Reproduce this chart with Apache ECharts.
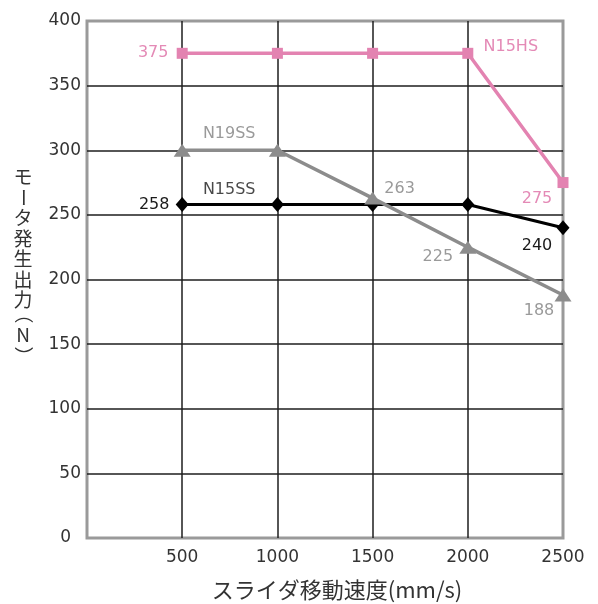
<!DOCTYPE html>
<html>
<head>
<meta charset="utf-8">
<script src="https://cdn.jsdelivr.net/npm/echarts@6/dist/echarts.min.js"></script>
<style>
html,body{margin:0;padding:0;background:#fff;}
#chart{width:598px;height:604px;}
</style>
</head>
<body>
<div id="chart"></div>
<script>
// ---- data ----
const speeds = [500, 1000, 1500, 2000, 2500];
const n15hs = [375, 375, 375, 375, 275];
const n15ss = [258, 258, 258, 258, 240];
const n19ss = [300, 300, 263, 225, 188];
const seriesNames = ['N15HS', 'N15SS', 'N19SS'];
const xTitle = 'スライダ移動速度(mm/s)';
const yTitle = 'モータ発生出力（N）';

// ---- label placement (layout only) ----
const labelLayout = {
  N15HS: [[0, 'v', [-29, 0]], [3, 'n', [43, -6]], [4, 'v', [-26, 16]]],
  N15SS: [[0, 'v', [-28, 0]], [0, 'n', [47, -15]], [4, 'v', [-26, 18]]],
  N19SS: [[0, 'n', [47, -16]], [2, 'v', [27, -9]], [3, 'v', [-30, 10]], [4, 'v', [-24, 16]]]
};
const numFont = 'DejaVu Sans';
const cjkFont = 'Noto Sans CJK JP';

function buildData(name, values, textColor) {
  return values.map((v, i) => {
    const item = { value: [speeds[i], v] };
    const specs = (labelLayout[name] || []).filter(s => s[0] === i);
    if (specs.length) {
      const s = specs[0];
      item.label = {
        show: true, position: 'inside', offset: s[2],
        formatter: s[1] === 'v' ? String(v) : name,
        color: textColor, fontSize: 16, fontFamily: numFont
      };
    }
    return item;
  });
}

function extraLabelSeries(name, values, textColor, color) {
  const specs = labelLayout[name] || [];
  const seen = {};
  const items = [];
  specs.forEach(s => {
    if (seen[s[0]]) {
      items.push({
        value: [speeds[s[0]], values[s[0]]],
        label: {
          show: true, position: 'inside', offset: s[2],
          formatter: s[1] === 'v' ? String(values[s[0]]) : name,
          color: textColor, fontSize: 16, fontFamily: numFont
        }
      });
    }
    seen[s[0]] = true;
  });
  return {
    type: 'scatter', name: name + '_lbl', data: items, symbolSize: 0,
    itemStyle: { color: color }, silent: true, z: 5
  };
}

const chart = echarts.init(document.getElementById('chart'), null, { renderer: 'canvas' });

const yChars = Array.from(yTitle);
const yPos = [177, 197.5, 218, 238.5, 259, 279.5, 300, 314, 334.5, 356];
const rotated = { 'ー': true, '（': true, '）': true };
const yTitleEls = yChars.map((c, i) => ({
  type: 'group',
  x: 23,
  y: yPos[i],
  rotation: rotated[c] ? -Math.PI / 2 : 0,
  children: [{
    type: 'text',
    x: 0, y: 0,
    style: {
      text: c, fontSize: 19, fontFamily: cjkFont, fill: '#333',
      align: 'center', verticalAlign: 'middle'
    }
  }]
}));

const option = {
  animation: false,
  backgroundColor: '#fff',
  grid: {
    left: 87, top: 21, right: 35, bottom: 66,
    show: true, borderColor: '#9a9a9a', borderWidth: 3, backgroundColor: '#fff'
  },
  xAxis: {
    type: 'value', min: 0, max: 2500, interval: 500,
    axisLine: { show: false }, axisTick: { show: false },
    axisLabel: {
      formatter: v => (v === 0 ? '' : String(v)),
      color: '#333', fontSize: 17, fontFamily: numFont, margin: 11
    },
    splitLine: { show: true, showMinLine: false, showMaxLine: false, lineStyle: { color: '#1e1e1e', width: 1.5 } }
  },
  yAxis: {
    type: 'value', min: 0, max: 400, interval: 50,
    axisLine: { show: false }, axisTick: { show: false },
    axisLabel: {
      formatter: v => (v === 0 ? '{z|0}' : String(v)),
      color: '#333', fontSize: 17, fontFamily: numFont, margin: 6,
      rich: { z: { color: '#333', fontSize: 17, fontFamily: numFont, padding: [0, 10, 0, 0] } }
    },
    splitLine: { show: true, showMinLine: false, showMaxLine: false, lineStyle: { color: '#1e1e1e', width: 1.5 } }
  },
  graphic: [
    {
      type: 'text', x: 337, y: 590,
      style: { text: xTitle, fontSize: 22, fontFamily: cjkFont, fill: '#333', align: 'center', verticalAlign: 'middle' }
    }
  ].concat(yTitleEls),
  series: [
    {
      type: 'line', name: seriesNames[0], data: buildData('N15HS', n15hs, '#e48ab6'),
      symbol: 'rect', symbolSize: 11,
      lineStyle: { color: '#e383b1', width: 3.5 }, itemStyle: { color: '#e383b1' }, z: 2
    },
    {
      type: 'line', name: seriesNames[1], data: buildData('N15SS', n15ss, '#1a1a1a'),
      symbol: 'diamond', symbolSize: [13, 15],
      lineStyle: { color: '#000', width: 3 }, itemStyle: { color: '#000' }, z: 3
    },
    {
      type: 'line', name: seriesNames[2], data: buildData('N19SS', n19ss, '#9a9a9a'),
      symbol: 'triangle', symbolSize: [17, 13],
      lineStyle: { color: '#8c8c8c', width: 3.5 }, itemStyle: { color: '#8c8c8c' }, z: 4
    },
    extraLabelSeries('N15SS', n15ss, '#1a1a1a', '#000')
  ]
};
chart.setOption(option);
</script>
</body>
</html>
